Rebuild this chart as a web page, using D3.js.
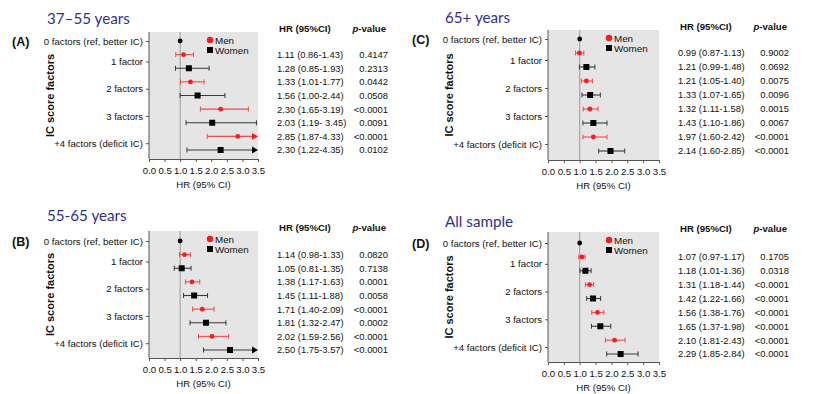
<!DOCTYPE html>
<html>
<head>
<meta charset="utf-8">
<script src="https://cdn.jsdelivr.net/npm/d3@7"></script>
<style>
  body { margin: 0; background: #fff; }
  svg { display: block; }
  text { font-family: "Liberation Sans", Arial, sans-serif; fill: #111; }
  .title { font-family: Lato, "Open Sans", sans-serif; fill: #2e3192; font-size: 15.2px; }
  .letter { font-weight: bold; font-size: 12.5px; }
  .ytitle { font-weight: bold; font-size: 11px; }
  .axis text { font-size: 9.6px; fill: #111; }
  .axis path, .axis line { stroke: #555; }
  .tbl { font-size: 9.4px; }
  .leg { font-size: 9.8px; }
  .hdr { font-size: 9.6px; font-weight: bold; }
</style>
</head>
<body>
<svg id="chart" width="830" height="394"></svg>
<script>
var categories = ["0 factors (ref, better IC)", "1 factor", "2 factors", "3 factors", "+4 factors (deficit IC)"];
var categoryRows = [0, 1.5, 3.5, 5.5, 7.5];
var panelTitles = ["37\u201355 years", "55-65 years", "65+ years", "All sample"];
var panelLetters = ["(A)", "(B)", "(C)", "(D)"];
var xTicks = [0, 0.5, 1, 1.5, 2, 2.5, 3, 3.5];
var legendLabels = ["Men", "Women"];

// [HR, lower, upper] per factor level 1..4, as drawn
var menA = [[1.11, 0.86, 1.43], [1.33, 1.01, 1.77], [2.30, 1.65, 3.19], [2.85, 1.87, 4.33]];
var womenA = [[1.28, 0.85, 1.93], [1.56, 1.00, 2.44], [2.03, 1.19, 3.45], [2.30, 1.22, 4.35]];
var menB = [[1.14, 0.98, 1.33], [1.38, 1.17, 1.63], [1.71, 1.40, 2.09], [2.02, 1.59, 2.56]];
var womenB = [[1.05, 0.81, 1.35], [1.45, 1.11, 1.88], [1.83, 1.32, 2.47], [2.60, 1.75, 3.57]];
var menC = [[0.99, 0.87, 1.13], [1.21, 1.05, 1.40], [1.32, 1.11, 1.58], [1.43, 1.10, 1.86]];
var womenC = [[1.21, 0.99, 1.48], [1.33, 1.07, 1.65], [1.43, 1.10, 1.86], [1.97, 1.60, 2.42]];
var menD = [[1.07, 0.97, 1.17], [1.31, 1.18, 1.44], [1.56, 1.38, 1.76], [2.10, 1.81, 2.43]];
var womenD = [[1.18, 1.01, 1.36], [1.42, 1.22, 1.66], [1.65, 1.37, 1.98], [2.29, 1.85, 2.84]];

// table text, rows alternate men / women
var hrTextA = ["1.11 (0.86-1.43)", "1.28 (0.85-1.93)", "1.33 (1.01-1.77)", "1.56 (1.00-2.44)", "2.30 (1.65-3.19)", "2.03 (1.19- 3.45)", "2.85 (1.87-4.33)", "2.30 (1.22-4.35)"];
var pTextA = ["0.4147", "0.2313", "0.0442", "0.0508", "<0.0001", "0.0091", "<0.0001", "0.0102"];
var hrTextB = ["1.14 (0.98-1.33)", "1.05 (0.81-1.35)", "1.38 (1.17-1.63)", "1.45 (1.11-1.88)", "1.71 (1.40-2.09)", "1.81 (1.32-2.47)", "2.02 (1.59-2.56)", "2.50 (1.75-3.57)"];
var pTextB = ["0.0820", "0.7138", "0.0001", "0.0058", "<0.0001", "0.0002", "<0.0001", "<0.0001"];
var hrTextC = ["0.99 (0.87-1.13)", "1.21 (0.99-1.48)", "1.21 (1.05-1.40)", "1.33 (1.07-1.65)", "1.32 (1.11-1.58)", "1.43 (1.10-1.86)", "1.97 (1.60-2.42)", "2.14 (1.60-2.85)"];
var pTextC = ["0.9002", "0.0692", "0.0075", "0.0096", "0.0015", "0.0067", "<0.0001", "<0.0001"];
var hrTextD = ["1.07 (0.97-1.17)", "1.18 (1.01-1.36)", "1.31 (1.18-1.44)", "1.42 (1.22-1.66)", "1.56 (1.38-1.76)", "1.65 (1.37-1.98)", "2.10 (1.81-2.43)", "2.29 (1.85-2.84)"];
var pTextD = ["0.1705", "0.0318", "<0.0001", "<0.0001", "<0.0001", "<0.0001", "<0.0001", "<0.0001"];

var menColor = "#ff1a1a";
var menBarColor = "#f04a4a";
var womenColor = "#000";
var womenBarColor = "#3a3a3a";

var svg = d3.select("#chart");

function drawPanel(p) {
    var g = svg.append("g");
    var x = d3.scaleLinear().domain([0, 3.5]).range([p.left, p.left + p.width]);
    var rows = d3.scaleLinear().domain([0, 8]).range([p.top + p.padTop, p.top + p.height - p.padBottom]);
    var bottom = p.top + p.height;

    g.append("rect")
        .attr("x", p.left).attr("y", p.top)
        .attr("width", p.width).attr("height", p.height)
        .attr("fill", "#e5e5e5");

    g.append("line")
        .attr("x1", x(1)).attr("x2", x(1))
        .attr("y1", p.top).attr("y2", bottom)
        .attr("stroke", "#9a9a9a").attr("stroke-width", 1);

    // x axis
    g.append("g")
        .attr("class", "axis")
        .attr("transform", "translate(0," + bottom + ")")
        .call(d3.axisBottom(x).tickValues(xTicks).tickFormat(d3.format(".1f")).tickSize(3).tickPadding(5).tickSizeOuter(0));

    // y axis, category ticks sit between the men / women rows
    g.append("g")
        .attr("class", "axis")
        .attr("transform", "translate(" + p.left + ",0)")
        .call(d3.axisLeft(rows).tickValues(categoryRows)
            .tickFormat(function (d, i) { return categories[i]; })
            .tickSize(3).tickPadding(3).tickSizeOuter(0))
        .select(".domain").attr("d", "M0," + p.top + "V" + bottom);

    g.append("text")
        .attr("x", (x(0) + x(3.5)) / 2).attr("y", bottom + 29)
        .attr("text-anchor", "middle")
        .style("font-size", "9.6px")
        .text("HR (95% CI)");

    g.append("text")
        .attr("class", "ytitle")
        .attr("transform", "translate(" + (p.left - 95) + "," + (p.top + p.height / 2) + ") rotate(-90)")
        .attr("text-anchor", "middle")
        .text("IC score factors");

    g.append("text")
        .attr("class", "title")
        .attr("x", p.titleX).attr("y", p.titleY)
        .text(p.title);

    g.append("text")
        .attr("class", "letter")
        .attr("x", p.letterX).attr("y", rows(0) + 4.5)
        .text(p.letter);

    // reference point
    g.append("circle")
        .attr("cx", x(1)).attr("cy", rows(0)).attr("r", 2.4)
        .attr("fill", "#000");

    var series = [];
    p.men.forEach(function (d, i) { series.push({ v: d, row: 1 + i * 2, sex: "m" }); });
    p.women.forEach(function (d, i) { series.push({ v: d, row: 2 + i * 2, sex: "w" }); });

    series.forEach(function (s) {
        var y = rows(s.row);
        var col = s.sex === "m" ? menBarColor : womenBarColor;
        var hiClipped = s.v[2] > 3.5;
        var xl = x(s.v[1]);
        var xh = x(Math.min(s.v[2], 3.5));
        g.append("line")
            .attr("x1", xl).attr("x2", hiClipped ? xh - 3 : xh)
            .attr("y1", y).attr("y2", y)
            .attr("stroke", col).attr("stroke-width", 1.1);
        g.append("line")
            .attr("x1", xl).attr("x2", xl)
            .attr("y1", y - 2.5).attr("y2", y + 2.5)
            .attr("stroke", col).attr("stroke-width", 1);
        if (hiClipped) {
            g.append("path")
                .attr("d", "M" + (xh - 6) + "," + (y - 3.5) + "L" + xh + "," + y + "L" + (xh - 6) + "," + (y + 3.5) + "Z")
                .attr("fill", s.sex === "m" ? menColor : womenColor);
        } else {
            g.append("line")
                .attr("x1", xh).attr("x2", xh)
                .attr("y1", y - 2.5).attr("y2", y + 2.5)
                .attr("stroke", col).attr("stroke-width", 1);
        }
        if (s.sex === "m") {
            g.append("circle")
                .attr("cx", x(s.v[0])).attr("cy", y).attr("r", 2.4)
                .attr("fill", menColor);
        } else {
            g.append("rect")
                .attr("x", x(s.v[0]) - 3).attr("y", y - 3)
                .attr("width", 6).attr("height", 6)
                .attr("fill", womenColor);
        }
    });

    // legend
    var lx = p.left + 61;
    g.append("circle").attr("cx", lx).attr("cy", p.top + 8).attr("r", 3.2).attr("fill", menColor);
    g.append("rect").attr("x", lx - 3).attr("y", p.top + 15).attr("width", 6).attr("height", 6).attr("fill", "#000");
    g.append("text").attr("class", "leg").attr("x", lx + 5).attr("y", p.top + 11.5).text(legendLabels[0]);
    g.append("text").attr("class", "leg").attr("x", lx + 5).attr("y", p.top + 21.5).text(legendLabels[1]);

    // table
    var tx = p.left + p.width + 19;
    var px = p.left + p.width + 130;
    g.append("text").attr("class", "hdr").attr("x", tx + 2).attr("y", p.top).text("HR (95%CI)");
    var ph = g.append("text").attr("class", "hdr").attr("x", px - 2).attr("y", p.top).attr("text-anchor", "end");
    ph.append("tspan").style("font-style", "italic").text("p");
    ph.append("tspan").text("-value");

    p.hrText.forEach(function (t, i) {
        g.append("text").attr("class", "tbl")
            .attr("x", tx).attr("y", rows(i + 1) + 3.4)
            .text(t);
        g.append("text").attr("class", "tbl")
            .attr("x", px).attr("y", rows(i + 1) + 3.4)
            .attr("text-anchor", "end")
            .text(p.pText[i]);
    });
}

var panels = [
    { left: 149, top: 32, width: 109, height: 127, padTop: 9, padBottom: 9, titleX: 47, titleY: 24, letterX: 12,
      title: panelTitles[0], letter: panelLetters[0], men: menA, women: womenA, hrText: hrTextA, pText: pTextA },
    { left: 149, top: 231, width: 109, height: 127, padTop: 10, padBottom: 8, titleX: 47, titleY: 221, letterX: 12,
      title: panelTitles[1], letter: panelLetters[1], men: menB, women: womenB, hrText: hrTextB, pText: pTextB },
    { left: 548, top: 30, width: 111, height: 130, padTop: 9, padBottom: 9, titleX: 445, titleY: 23, letterX: 412,
      title: panelTitles[2], letter: panelLetters[2], men: menC, women: womenC, hrText: hrTextC, pText: pTextC },
    { left: 548, top: 232, width: 111, height: 130, padTop: 11, padBottom: 8, titleX: 445, titleY: 227, letterX: 412,
      title: panelTitles[3], letter: panelLetters[3], men: menD, women: womenD, hrText: hrTextD, pText: pTextD }
];

panels.forEach(drawPanel);
</script>
</body>
</html>
